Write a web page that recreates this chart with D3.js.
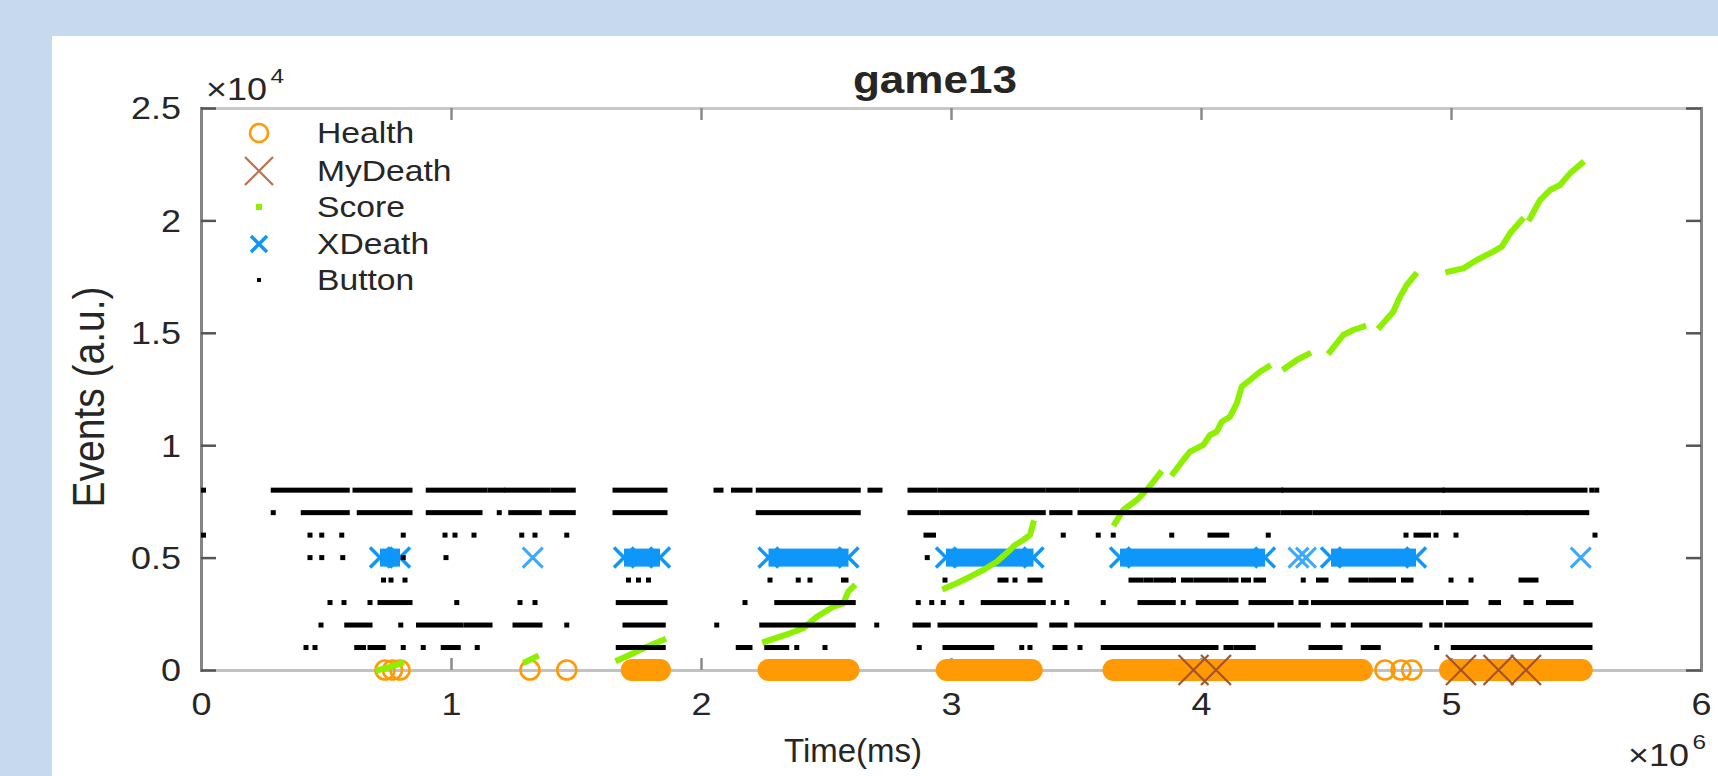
<!DOCTYPE html>
<html>
<head>
<meta charset="utf-8">
<script src="https://cdn.jsdelivr.net/npm/d3@7"></script>
<style>
html, body { margin: 0; padding: 0; background: #c6d9ef; }
svg { display: block; }
text { font-family: "Liberation Sans", Arial, Helvetica, sans-serif; fill: #262626; }
</style>
</head>
<body>
<svg width="1718" height="776"></svg>
<script>
// time is in units of 10^6 ms, event values in a.u.
var xTicks = [0, 1, 2, 3, 4, 5, 6];
var yTicks = [0, 5000, 10000, 15000, 20000, 25000];
var legendNames = ['Health', 'MyDeath', 'Score', 'XDeath', 'Button'];

// Health (y = 0): single markers and dense runs [start, end]
var healthSingles = [0.736, 0.766, 0.796, 1.316, 1.463, 4.736, 4.800, 4.843];
var healthRuns = [[1.723, 1.836], [2.270, 2.590], [2.983, 3.323], [3.650, 4.643], [4.996, 5.523]];

// MyDeath (y = 0)
var myDeathTimes = [3.97, 4.06, 5.04, 5.19, 5.30];

// XDeath (y = 5000)
var xDeathSingles = [1.327, 4.39, 4.42, 5.519];
var xDeathRuns = [[0.716, 0.796], [1.692, 1.836], [2.270, 2.590], [2.980, 3.330], [3.676, 4.256], [4.520, 4.860]];

// Score segments [time, score]
var score1 = [[0.71, 0], [0.76, 150], [0.80, 300]];
var score2 = [[1.30, 370], [1.34, 590]];
var score3 = [[1.669, 445], [1.729, 742], [1.769, 965], [1.849, 1335]];
var score4 = [[2.256, 1259], [2.356, 1633], [2.409, 1855], [2.463, 2371], [2.529, 2816], [2.569, 2966], [2.589, 3487], [2.609, 3709]];
var score5 = [[2.976, 3634], [3.023, 3857], [3.076, 4150], [3.129, 4448], [3.183, 4817], [3.236, 5338], [3.256, 5561], [3.289, 5783], [3.316, 6005], [3.329, 6526]];
var score6 = [[3.656, 6526], [3.689, 7117], [3.743, 7562], [3.783, 8007], [3.836, 8750]];
var score7 = [[3.889, 8750], [3.929, 9342], [3.956, 9711], [4.009, 10009], [4.036, 10454], [4.063, 10600], [4.083, 11045], [4.116, 11268], [4.143, 11862], [4.163, 12603], [4.196, 12900], [4.236, 13270], [4.269, 13493]];
var score8 = [[4.336, 13420], [4.383, 13790], [4.429, 14057]];
var score9 = [[4.516, 14160], [4.569, 14902], [4.609, 15125], [4.649, 15273]];
var score10 = [[4.716, 15273], [4.769, 15940], [4.796, 16607], [4.823, 17126], [4.856, 17571]];
var score11 = [[4.989, 17719], [5.049, 17867], [5.103, 18238], [5.169, 18608], [5.203, 18831], [5.236, 19424], [5.283, 20018]];
var score12 = [[5.316, 20092], [5.356, 20907], [5.396, 21352], [5.436, 21574], [5.476, 22094], [5.523, 22539]];
var scoreSegments = [score1, score2, score3, score4, score5, score6, score7, score8, score9, score10, score11, score12];

// Button presses: one list of [start, end] spans per level
var buttonLevels = [8000, 7000, 6000, 5000, 4000, 3000, 2000, 1000];
var button8000 = [[0.01, 0.01], [0.289, 0.585], [0.616, 0.836], [0.909, 1.136], [1.156, 1.207], [1.223, 1.389], [1.409, 1.489], [1.656, 1.856], [2.06, 2.08], [2.13, 2.196], [2.229, 2.629], [2.676, 2.716], [2.836, 2.936], [2.956, 3.369], [3.389, 3.503], [3.523, 4.32], [4.33, 4.965], [4.975, 5.536], [5.563, 5.563], [5.583, 5.583]];
var button7000 = [[0.289, 0.289], [0.409, 0.585], [0.633, 0.836], [0.909, 1.116], [1.193, 1.193], [1.239, 1.353], [1.403, 1.489], [1.656, 1.856], [2.229, 2.629], [2.836, 2.943], [2.963, 3.369], [3.403, 3.476], [3.516, 4.309], [4.329, 4.436], [4.456, 4.949], [4.969, 5.296], [5.309, 5.543]];
var button6000 = [[0.01, 0.01], [0.436, 0.436], [0.483, 0.483], [0.563, 0.563], [0.809, 0.809], [0.976, 0.976], [1.016, 1.016], [1.092, 1.092], [1.283, 1.283], [1.336, 1.336], [1.463, 1.463], [2.90, 2.93], [3.449, 3.449], [3.589, 3.589], [3.649, 3.649], [3.883, 3.883], [4.036, 4.103], [4.269, 4.269], [4.82, 4.82], [4.86, 4.91], [4.94, 4.94], [5.02, 5.02], [5.576, 5.576]];
var button5000 = [[0.436, 0.436], [0.483, 0.483], [0.567, 0.567], [0.809, 0.809], [0.98, 0.98], [2.905, 2.905]];
var button4000 = [[0.73, 0.73], [0.76, 0.76], [0.816, 0.816], [1.71, 1.71], [1.75, 1.75], [1.79, 1.79], [2.276, 2.276], [2.389, 2.389], [2.436, 2.436], [2.57, 2.58], [2.976, 2.976], [3.196, 3.22], [3.256, 3.256], [3.316, 3.356], [3.72, 3.76], [3.78, 3.80], [3.82, 3.88], [3.89, 3.89], [3.93, 3.96], [3.98, 4.05], [4.07, 4.10], [4.12, 4.14], [4.17, 4.19], [4.22, 4.25], [4.409, 4.409], [4.47, 4.50], [4.60, 4.66], [4.68, 4.71], [4.73, 4.77], [4.81, 4.84], [5.0, 5.0], [5.08, 5.08], [5.28, 5.34]];
var button3000 = [[0.516, 0.516], [0.572, 0.572], [0.676, 0.676], [0.716, 0.836], [1.023, 1.023], [1.276, 1.276], [1.336, 1.336], [1.669, 1.856], [2.176, 2.176], [2.303, 2.609], [2.869, 2.869], [2.923, 2.923], [2.969, 2.969], [3.043, 3.043], [3.129, 3.369], [3.409, 3.409], [3.463, 3.463], [3.609, 3.609], [3.756, 3.889], [3.929, 3.929], [3.989, 4.07], [4.09, 4.14], [4.20, 4.36], [4.40, 4.42], [4.45, 4.96], [4.99, 5.06], [5.16, 5.19], [5.30, 5.32], [5.39, 5.48]];
var button2000 = [[0.48, 0.48], [0.583, 0.676], [0.799, 0.799], [0.87, 0.95], [0.97, 1.04], [1.06, 1.156], [1.256, 1.356], [1.463, 1.463], [1.696, 1.849], [2.063, 2.063], [2.243, 2.609], [2.703, 2.703], [2.856, 2.909], [2.956, 3.336], [3.403, 3.456], [3.503, 4.283], [4.316, 4.469], [4.529, 4.569], [4.609, 4.876], [4.923, 4.956], [4.983, 5.556]];
var button1000 = [[0.42, 0.42], [0.456, 0.456], [0.623, 0.65], [0.676, 0.729], [0.809, 0.809], [0.889, 0.889], [0.969, 1.029], [1.105, 1.105], [1.669, 1.849], [2.149, 2.196], [2.263, 2.343], [2.383, 2.383], [2.496, 2.496], [2.873, 2.873], [2.976, 3.163], [3.283, 3.283], [3.316, 3.316], [3.416, 3.456], [3.516, 3.516], [3.609, 4.06], [4.10, 4.12], [4.14, 4.209], [4.44, 4.556], [4.649, 4.709], [4.943, 4.943], [5.009, 5.556]];
var buttonSpans = [button8000, button7000, button6000, button5000, button4000, button3000, button2000, button1000];

var W = 1718, H = 776;
var colHealth = '#ff9a05', colMyDeath = '#a4542c', colScore = '#8cf000', colXDeath = '#0e96f8', colButton = '#000';
var sx = 1.16; // horizontal stretch of the glyphs in the reference

var svg = d3.select('svg');

svg.append('rect')
    .attr('x', 52).attr('y', 36)
    .attr('width', W - 52).attr('height', H - 36)
    .attr('fill', '#fff');

var x = d3.scaleLinear().domain([0, 6]).range([201, 1701]);
var y = d3.scaleLinear().domain([0, 25000]).range([670, 108]);

// axes (box on, ticks inward)
var xAxis = d3.axisBottom(x).tickValues(xTicks).tickSize(-12).tickSizeOuter(0).tickFormat(d3.format('d'));
var xAxisTop = d3.axisTop(x).tickValues(xTicks).tickSize(-12).tickSizeOuter(0).tickFormat('');
var yAxis = d3.axisLeft(y).tickValues(yTicks).tickSize(-15).tickSizeOuter(0).tickFormat(d => String(d / 1e4));
var yAxisRight = d3.axisRight(y).tickValues(yTicks).tickSize(-15).tickSizeOuter(0).tickFormat('');

function styleAxis(g, lineCol, tickCol) {
    g.select('.domain').attr('stroke', lineCol).attr('stroke-width', 3);
    g.selectAll('.tick line').attr('stroke', tickCol).attr('stroke-width', 2.5);
}

var gx = svg.append('g').attr('transform', `translate(0,${y(0)})`).call(xAxis);
styleAxis(gx, '#c2c2c2', '#8a8a8a');
gx.selectAll('.tick text')
    .attr('x', null).attr('y', null).attr('dy', null)
    .attr('transform', `translate(0,45) scale(${sx},1)`)
    .attr('font-size', 31).attr('fill', '#262626');

var gxt = svg.append('g').attr('transform', `translate(0,${y(25000)})`).call(xAxisTop);
styleAxis(gxt, '#c8c8c8', '#8a8a8a');

var gy = svg.append('g').attr('transform', `translate(${x(0)},0)`).call(yAxis);
styleAxis(gy, '#858585', '#555');
gy.selectAll('.tick text')
    .attr('x', null).attr('dy', '0.35em')
    .attr('transform', `translate(-20,0) scale(${sx},1)`)
    .attr('font-size', 31).attr('fill', '#262626');

var gyr = svg.append('g').attr('transform', `translate(${x(6)},0)`).call(yAxisRight);
styleAxis(gyr, '#858585', '#555');

svg.selectAll('.domain').attr('stroke-linecap', 'square');

// plot layer
var plot = svg.append('g');

function xMark(g, cx, cy, r, col, w) {
    g.append('path')
        .attr('d', `M${cx - r},${cy - r}L${cx + r},${cy + r}M${cx - r},${cy + r}L${cx + r},${cy - r}`)
        .attr('stroke', col).attr('stroke-width', w).attr('fill', 'none');
}

// Health
plot.selectAll('line.health').data(healthRuns).enter().append('line')
    .attr('class', 'health')
    .attr('x1', d => x(d[0])).attr('x2', d => x(d[1]))
    .attr('y1', y(0)).attr('y2', y(0))
    .attr('stroke', colHealth).attr('stroke-width', 22).attr('stroke-linecap', 'round');
plot.selectAll('circle.health').data(healthSingles).enter().append('circle')
    .attr('class', 'health')
    .attr('cx', d => x(d)).attr('cy', y(0)).attr('r', 9.5)
    .attr('fill', 'none').attr('stroke', colHealth).attr('stroke-width', 2.6);

// MyDeath
myDeathTimes.forEach(t => xMark(plot, x(t), y(0), 15, colMyDeath, 2.2));

// XDeath
var yX = y(5000);
plot.selectAll('rect.xdeath').data(xDeathRuns).enter().append('rect')
    .attr('class', 'xdeath')
    .attr('x', d => x(d[0])).attr('width', d => x(d[1]) - x(d[0]))
    .attr('y', yX - 9).attr('height', 18)
    .attr('fill', colXDeath);
xDeathRuns.forEach(d => { xMark(plot, x(d[0]), yX, 10, colXDeath, 3.5); xMark(plot, x(d[1]), yX, 10, colXDeath, 3.5); });
xDeathSingles.forEach(t => xMark(plot, x(t), yX, 10, '#3aaaff', 3));

// Score
var scoreLine = d3.line().x(d => x(d[0])).y(d => y(d[1]));
plot.selectAll('path.score').data(scoreSegments).enter().append('path')
    .attr('class', 'score')
    .attr('d', scoreLine)
    .attr('fill', 'none').attr('stroke', colScore).attr('stroke-width', 6)
    .attr('stroke-linejoin', 'round').attr('stroke-linecap', 'square');

// Button
buttonLevels.forEach(function (lv, i) {
    plot.selectAll('rect.b' + lv).data(buttonSpans[i]).enter().append('rect')
        .attr('class', 'b' + lv)
        .attr('x', d => x(d[0]) - 2.5).attr('width', d => x(d[1]) - x(d[0]) + 5)
        .attr('y', y(lv) - 2.5).attr('height', 5)
        .attr('fill', colButton);
});

// legend
var legY = [133, 171, 207, 244, 280];
var leg = svg.append('g');
leg.append('circle').attr('cx', 259).attr('cy', legY[0]).attr('r', 9)
    .attr('fill', 'none').attr('stroke', colHealth).attr('stroke-width', 2.6);
xMark(leg, 259, legY[1], 14, '#b8724e', 2.2);
leg.append('rect').attr('x', 256).attr('y', legY[2] - 3).attr('width', 6).attr('height', 6).attr('fill', colScore);
xMark(leg, 259, legY[3], 8, colXDeath, 3.5);
leg.append('rect').attr('x', 257).attr('y', legY[4] - 2).attr('width', 4).attr('height', 4).attr('fill', '#000');
leg.selectAll('text').data(legendNames).enter().append('text')
    .attr('transform', (d, i) => `translate(317,${legY[i]}) scale(${sx},1)`)
    .attr('dy', '0.35em')
    .attr('font-size', 29)
    .text(d => d);

// title and labels
svg.append('text')
    .attr('transform', `translate(935,93) scale(${sx},1)`)
    .attr('text-anchor', 'middle')
    .attr('font-size', 38).attr('font-weight', 'bold').attr('fill', '#000')
    .text('game13');

svg.append('text')
    .attr('transform', `translate(853,762)`)
    .attr('text-anchor', 'middle')
    .attr('font-size', 33)
    .text('Time(ms)');

svg.append('text')
    .attr('transform', `translate(104,397) rotate(-90) scale(1,${sx})`)
    .attr('text-anchor', 'middle')
    .attr('font-size', 39)
    .text('Events (a.u.)');

// exponent labels
var e4 = svg.append('text').attr('transform', `translate(206,100) scale(${sx},1)`).attr('font-size', 31);
e4.append('tspan').text('\u00d710');
e4.append('tspan').attr('dx', 3).attr('dy', -17).attr('font-size', 21).text('4');

var e6 = svg.append('text').attr('transform', `translate(1628,766) scale(${sx},1)`).attr('font-size', 31);
e6.append('tspan').text('\u00d710');
e6.append('tspan').attr('dx', 3).attr('dy', -17).attr('font-size', 21).text('6');
</script>
</body>
</html>
